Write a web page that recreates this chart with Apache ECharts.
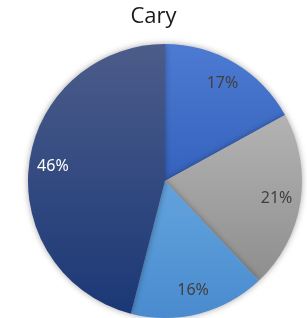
<!DOCTYPE html>
<html>
<head>
<meta charset="utf-8">
<script src="https://cdn.jsdelivr.net/npm/echarts@6/dist/echarts.min.js"></script>
<style>
  html, body { margin: 0; padding: 0; background: #fff; }
  #chart { width: 307px; height: 318px; }
</style>
</head>
<body>
<div id="chart"></div>
<script>
// slices, clockwise from 12 o'clock
const categories = ['A', 'B', 'C', 'D']
const values = [17, 21, 16, 46]
const topColors = ['#4d7bd2', '#b3b3b3', '#62a3de', '#4c5c8a']
const bottomColors = ['#3562bd', '#8e8e8e', '#4a8bcf', '#1b3876']
const labelColors = ['#404040', '#404040', '#404040', '#ffffff']

const cx = 165, cy = 181
const chart = echarts.init(document.getElementById('chart'))

const option = {
  animation: false,
  title: {
    text: 'Cary',
    left: 'center',
    top: 1,
    textStyle: { fontFamily: 'Open Sans', fontWeight: 'normal', fontSize: 22, color: '#1a1a1a' }
  },
  series: [{
    type: 'pie',
    center: [cx, cy],
    radius: 137,
    startAngle: 90,
    clockwise: true,
    itemStyle: {
      shadowBlur: 6,
      shadowColor: 'rgba(0,0,0,0.35)'
    },
    label: {
      show: true,
      position: 'inside',
      formatter: '{c}%',
      fontFamily: 'Noto Sans',
      fontSize: 16
    },
    labelLine: { show: false },
    // push inside labels further out, excel puts them ~0.77 of radius
    labelLayout: function (p) {
      const lx = p.labelRect.x + p.labelRect.width / 2
      const ly = p.labelRect.y + p.labelRect.height / 2
      const k = 1.58
      return { x: cx + (lx - cx) * k, y: cy + (ly - cy) * k }
    },
    data: categories.map((c, i) => ({
      name: c,
      value: values[i],
      itemStyle: {
        color: new echarts.graphic.LinearGradient(0, 0, 0, 1, [
          { offset: 0, color: topColors[i] },
          { offset: 1, color: bottomColors[i] }
        ])
      },
      label: { color: labelColors[i] }
    }))
  }]
}
chart.setOption(option)
</script>
</body>
</html>
